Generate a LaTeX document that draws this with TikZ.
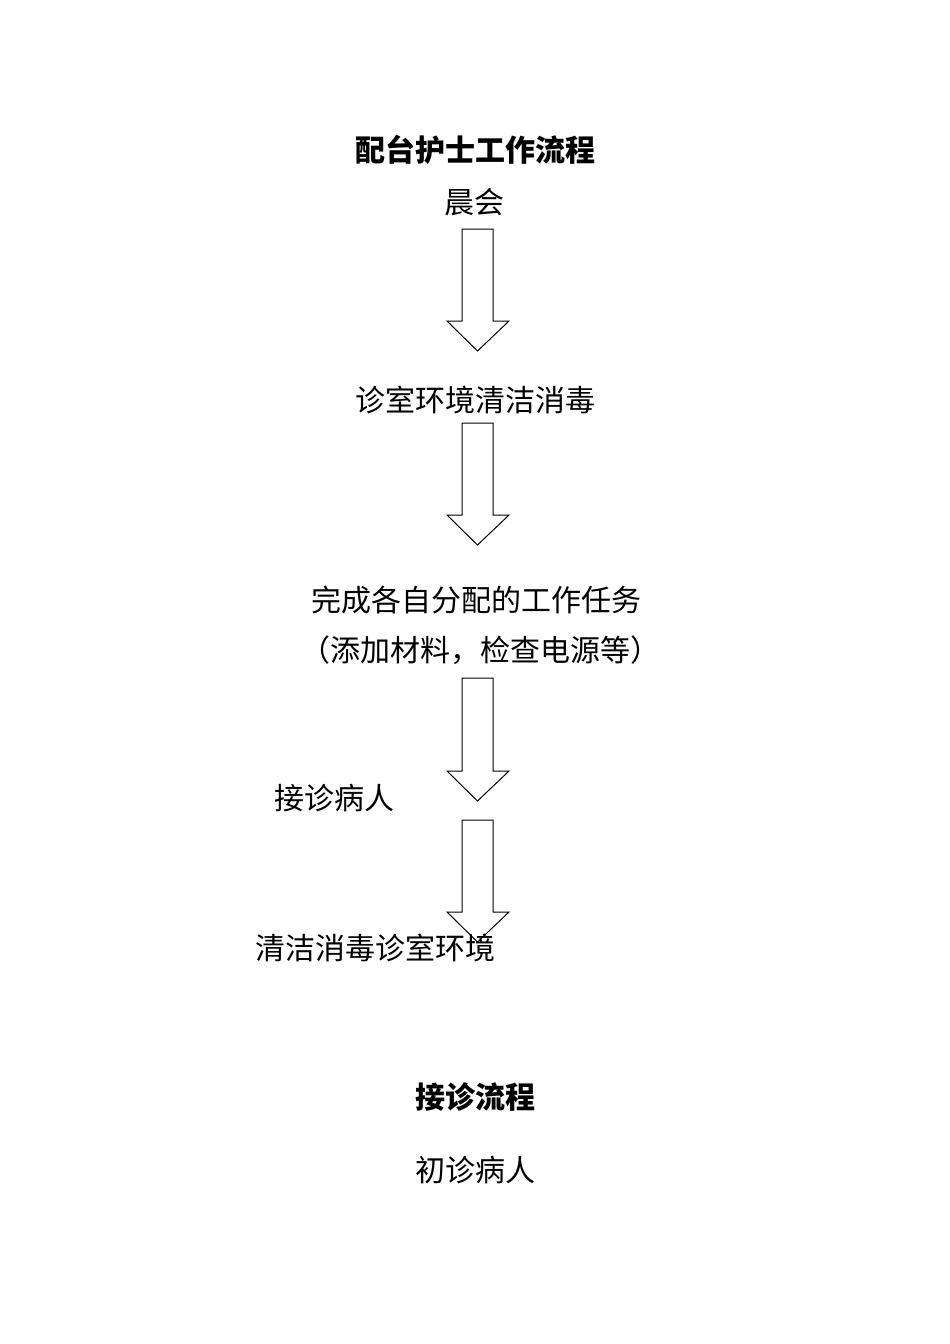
\documentclass[tikz,border=0pt]{standalone}
\usepackage{fontspec}
\newfontfamily\cjk{Noto Sans CJK SC}
\begin{document}
\begin{tikzpicture}[x=1pt,y=-1pt,
  txt/.style={font=\cjk\fontsize{30}{34}\selectfont,inner sep=0pt,anchor=center},
  ttl/.style={font=\cjk\bfseries\fontsize{30}{34}\selectfont,inner sep=0pt,anchor=center},
  blk/.style={draw=black,line width=1pt,fill=none}]
\useasboundingbox (0,0) rectangle (950,1344);
\newcommand{\blockarrow}[2]{% top y, tip y
  \draw[blk] (462,#1) -- (493,#1) -- (493,#2-30) -- (509,#2-30) -- (477.5,#2) -- (447,#2-30) -- (462,#2-30) -- cycle;}
\node[ttl] (t1) at (475,150) {配台护士工作流程};
\node[txt] (a) at (474,202) {晨会};
\blockarrow{229}{351}
\node[txt] (b) at (475,400) {诊室环境清洁消毒};
\blockarrow{423}{545}
\node[txt] (c) at (476,600) {完成各自分配的工作任务};
\node[txt] (c2) at (480,650) {（添加材料，检查电源等）};
\blockarrow{678}{801}
\node[txt] (d) at (334,798) {接诊病人};
\blockarrow{820}{942}
\node[txt] (e) at (375,948) {清洁消毒诊室环境};
\node[ttl] (t2) at (475,1097) {接诊流程};
\node[txt] (f) at (475,1170) {初诊病人};
\end{tikzpicture}
\end{document}
